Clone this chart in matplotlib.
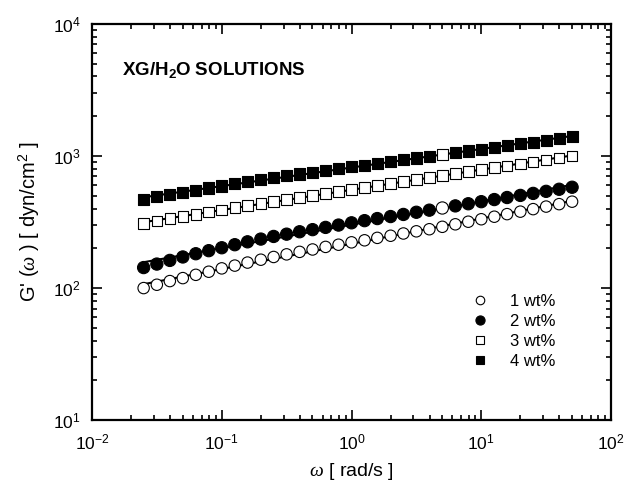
import numpy as np
import matplotlib
matplotlib.use("Agg")
import matplotlib.pyplot as plt
from matplotlib.ticker import LogLocator, NullFormatter

plt.rcParams['font.family'] = ['Liberation Sans', 'DejaVu Sans']
plt.rcParams['mathtext.fontset'] = 'custom'
plt.rcParams['mathtext.rm'] = 'Liberation Sans'
plt.rcParams['mathtext.it'] = 'Liberation Serif:italic'
plt.rcParams['mathtext.bf'] = 'Liberation Sans:bold'
plt.rcParams['axes.unicode_minus'] = False

# angular frequency, rad/s
omega = [0.025, 0.0316, 0.0398, 0.0501, 0.0631, 0.0794, 0.1, 0.126, 0.158,
         0.2, 0.251, 0.316, 0.398, 0.501, 0.631, 0.794, 1.0, 1.26, 1.58, 2.0,
         2.51, 3.16, 3.98, 5.01, 6.31, 7.94, 10.0, 12.6, 15.8, 20.0, 25.1,
         31.6, 39.8, 50.1]

# storage modulus G', dyn/cm^2
g_1wt = [100, 106, 113, 119, 126, 133, 141, 148, 156, 164, 172, 180, 188, 196,
         205, 213, 222, 230, 240, 249, 259, 269, 279, 291, 304, 318, 332, 347,
         363, 379, 396, 414, 432, 451]
g_2wt = [143, 152, 162, 172, 182, 192, 202, 213, 224, 235, 246, 256, 267, 277,
         288, 300, 312, 324, 336, 348, 361, 375, 389, 404, 419, 435, 451, 468,
         485, 503, 521, 540, 560, 580]
g_3wt = [309, 322, 335, 348, 362, 376, 391, 406, 421, 437, 453, 469, 486, 503,
         521, 539, 558, 577, 598, 619, 641, 663, 686, 710, 735, 761, 787, 815,
         843, 873, 903, 935, 967, 1001]
g_4wt = [472, 491, 510, 530, 551, 572, 593, 615, 637, 660, 684, 708, 730, 753,
         777, 801, 827, 853, 879, 907, 936, 965, 995, 1027, 1059, 1092, 1127,
         1162, 1199, 1236, 1275, 1315, 1357, 1399]

labels = ['1 wt%', '2 wt%', '3 wt%', '4 wt%']
series = [g_1wt, g_2wt, g_3wt, g_4wt]
markers = ['o', 'o', 's', 's']
fills = ['white', 'black', 'white', 'black']
sizes = [8.2, 8.8, 7.6, 8.0]
odd_point = 23  # drawn hollow in the filled series

fig = plt.figure(figsize=(6.28, 4.88), dpi=100)
ax = fig.add_axes([0.1465, 0.139, 0.8265, 0.812])

x = np.array(omega)
for g, lab, m, fc, ms in zip(series, labels, markers, fills, sizes):
    y = np.array(g, dtype=float)
    # power-law fit line
    p = np.polyfit(np.log10(x), np.log10(y), 1)
    ax.plot(x, 10 ** np.polyval(p, np.log10(x)), color='black', lw=1.5, zorder=2)
    face = [fc] * len(x)
    if fc == 'black':
        face[odd_point] = 'white'
    ax.scatter(x, y, s=ms ** 2, marker=m, facecolors=face, edgecolors='black',
               linewidths=0.8, zorder=3)
    ax.plot([], [], ls='none', marker=m, mfc=fc, mec='black', mew=0.8,
            ms=ms * 0.75, label=lab)

ax.set_xscale('log')
ax.set_yscale('log')
ax.set_xlim(1e-2, 1e2)
ax.set_ylim(1e1, 1e4)

for axis in (ax.xaxis, ax.yaxis):
    axis.set_major_locator(LogLocator(base=10, numticks=10))
    axis.set_minor_locator(LogLocator(base=10, subs=np.arange(2, 10), numticks=10))
    axis.set_minor_formatter(NullFormatter())

ax.tick_params(which='both', direction='in', top=True, right=True, width=1.2)
ax.tick_params(which='major', length=7, labelsize=12.5)
ax.tick_params(axis='x', which='major', pad=9)
ax.tick_params(axis='y', which='major', pad=8)
ax.tick_params(which='minor', length=3.5)
for sp in ax.spines.values():
    sp.set_linewidth(1.6)

ax.set_xlabel(r'$\mathit{\omega}$ [ rad/s ]', fontsize=14, labelpad=6)
ax.set_ylabel(r"G' ($\mathit{\omega}$ ) [ dyn/cm$^2$ ]", fontsize=14.5, labelpad=8)

ax.text(0.057, 0.884, r'$\mathbf{XG/H_{2}O\ SOLUTIONS}$', transform=ax.transAxes,
        fontsize=13.5, va='center', ha='left')

ax.legend(loc='lower right', bbox_to_anchor=(0.915, 0.1), frameon=False,
          fontsize=12, labelspacing=0.3, handletextpad=1.3, handlelength=1.0,
          borderpad=0.2)

fig.savefig('out.png', dpi=100)
